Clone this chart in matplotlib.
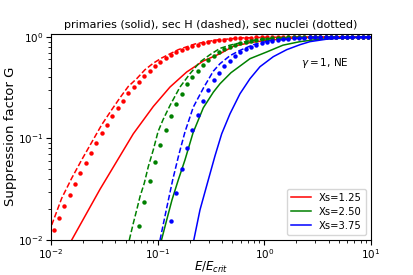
import numpy as np
import matplotlib
matplotlib.use('Agg')
import matplotlib.pyplot as plt

# legend labels and colours
labels = ['Xs=1.25', 'Xs=2.50', 'Xs=3.75']
colors = ['r', 'g', 'b']

# primaries (solid)
x_prim_r = [0.01563, 0.0288, 0.0591, 0.0910, 0.1305, 0.1871, 0.2679, 0.384, 0.512, 0.734, 1.052, 2.16, 5.12, 10.0]
g_prim_r = [0.0100, 0.0316, 0.1112, 0.2066, 0.3211, 0.4516, 0.5798, 0.684, 0.808, 0.879, 0.926, 0.984, 0.995, 1.0]
x_prim_g = [0.1086, 0.1215, 0.1362, 0.1561, 0.1804, 0.2144, 0.2679, 0.3323, 0.384, 0.4868, 0.734, 1.052, 1.496, 2.16, 3.33, 5.70, 10.0]
g_prim_g = [0.0100, 0.01575, 0.0248, 0.0391, 0.0616, 0.1134, 0.2006, 0.2853, 0.346, 0.4444, 0.611, 0.711, 0.830, 0.899, 0.951, 0.984, 0.998]
x_prim_b = [0.2182, 0.2493, 0.2983, 0.3447, 0.3984, 0.4765, 0.5912, 0.7336, 0.9107, 1.213, 1.620, 2.16, 2.679, 3.844, 5.70, 10.0]
g_prim_b = [0.0100, 0.0198, 0.0391, 0.0674, 0.1112, 0.175, 0.2758, 0.3878, 0.5093, 0.639, 0.749, 0.839, 0.899, 0.951, 0.980, 0.995]

# sec H (dashed)
x_secH_r = [0.01015, 0.0126, 0.01563, 0.0194, 0.02407, 0.02987, 0.03707, 0.04434, 0.05305, 0.06358,
            0.07606, 0.0910, 0.1091, 0.1561, 0.2239, 0.3447, 0.5911, 1.13, 2.68, 10.0]
g_secH_r = [0.01406, 0.0258, 0.0406, 0.0616, 0.0916, 0.1364, 0.1917, 0.2518, 0.3256, 0.3878,
            0.4757, 0.5513, 0.6206, 0.7494, 0.853, 0.930, 0.977, 0.993, 0.998, 1.0]
x_secH_g = [0.0542, 0.0591, 0.0636, 0.0683, 0.0749, 0.0817, 0.0910, 0.1007, 0.1122, 0.1305, 0.1619,
            0.2009, 0.2493, 0.3094, 0.384, 0.4765, 0.7336, 1.13, 2.16, 5.12, 10.0]
g_secH_g = [0.0100, 0.01462, 0.01977, 0.02675, 0.03627, 0.05286, 0.07727, 0.1163, 0.1528, 0.2114, 0.3211,
            0.4344, 0.5667, 0.6688, 0.7715, 0.830, 0.919, 0.966, 0.989, 0.998, 1.0]
x_secH_b = [0.1052, 0.1204, 0.1383, 0.1578, 0.1804, 0.2158, 0.2679, 0.3323, 0.384, 0.4765, 0.5912,
            0.7878, 1.13, 2.16, 5.12, 10.0]
g_secH_b = [0.0100, 0.01977, 0.03909, 0.0690, 0.1163, 0.2038, 0.3125, 0.4598, 0.5452, 0.654, 0.7376,
            0.839, 0.919, 0.973, 0.993, 1.0]

# sec nuclei (dotted), common E/Ecrit grid
x_nuc = [0.0106, 0.0119, 0.0133, 0.0150, 0.0168, 0.0188, 0.0211, 0.0237, 0.0266, 0.0299,
         0.0335, 0.0376, 0.0422, 0.0473, 0.0531, 0.0596, 0.0668, 0.0750, 0.0841, 0.0944,
         0.106, 0.119, 0.133, 0.150, 0.168, 0.188, 0.211, 0.237, 0.266, 0.299,
         0.335, 0.376, 0.422, 0.473, 0.531, 0.596, 0.668, 0.750, 0.841, 0.944,
         1.06, 1.19, 1.33, 1.50, 1.68, 1.88, 2.11, 2.37, 2.66, 2.99,
         3.35, 3.76, 4.22, 4.73, 5.31, 5.96, 6.68, 7.50, 8.41, 9.44]
g_nuc_r = [0.0126, 0.0166, 0.0215, 0.0276, 0.0355, 0.0455, 0.0579, 0.0727, 0.0906, 0.112,
           0.137, 0.166, 0.198, 0.235, 0.278, 0.321, 0.362, 0.409, 0.462, 0.513,
           0.561, 0.615, 0.658, 0.705, 0.749, 0.784, 0.811, 0.839, 0.865, 0.889,
           0.909, 0.928, 0.943, 0.956, 0.967, 0.975, 0.982, 0.986, 0.991, 0.993,
           0.995, 0.996, 0.997, 0.998, 0.998, 0.999, 0.999, 1.0, 1.0, 1.0,
           1.0, 1.0, 1.0, 1.0, 1.0, 1.0, 1.0, 1.0, 1.0, 1.0]
g_nuc_g = [0.0138, 0.0236, 0.0382, 0.0588, 0.0866, 0.120, 0.167, 0.218, 0.277, 0.341,
           0.404, 0.465, 0.533, 0.597, 0.651, 0.705, 0.755, 0.802, 0.839, 0.873,
           0.899, 0.919, 0.938, 0.953, 0.964, 0.973, 0.980, 0.986, 0.991, 0.994,
           0.996, 0.997, 0.998, 0.999, 1.0, 1.0, 1.0, 1.0, 1.0, 1.0,
           1.0, 1.0, 1.0, 1.0]
g_nuc_b = [0.0153, 0.0289, 0.0498, 0.0803, 0.120, 0.171, 0.234, 0.302, 0.373, 0.444,
           0.513, 0.584, 0.646, 0.705, 0.758, 0.802, 0.839, 0.873, 0.899, 0.919,
           0.936, 0.951, 0.962, 0.971, 0.980, 0.986, 0.991, 0.994, 0.996, 0.997,
           0.998, 0.999, 1.0, 1.0, 1.0, 1.0, 1.0, 1.0]

prim = [(x_prim_r, g_prim_r), (x_prim_g, g_prim_g), (x_prim_b, g_prim_b)]
secH = [(x_secH_r, g_secH_r), (x_secH_g, g_secH_g), (x_secH_b, g_secH_b)]
nuc = [g_nuc_r, g_nuc_g, g_nuc_b]

fig = plt.figure(figsize=(4.13, 2.75), dpi=100)
ax = fig.add_axes([0.1235, 0.1273, 0.7748, 0.7507])

for i in range(3):
    ax.plot(prim[i][0], prim[i][1], '-', color=colors[i], lw=1.1, label=labels[i])
    ax.plot(secH[i][0], secH[i][1], '--', color=colors[i], lw=1.1)
    g = nuc[i]
    ax.plot(x_nuc[len(x_nuc) - len(g):], g, 'o', color=colors[i], ms=3.2, mew=0)

ax.set_xscale('log')
ax.set_yscale('log')
ax.set_xlim(0.01, 10)
ax.set_ylim(0.01, 1.08)
ax.tick_params(labelsize=7.5, pad=2)
ax.set_xlabel(r'$E/E_{crit}$', fontsize=8.5, labelpad=-1)
ax.set_ylabel('Suppression factor G', fontsize=9.5, labelpad=1)
ax.set_title('primaries (solid), sec H (dashed), sec nuclei (dotted)', fontsize=8, pad=4)
ax.text(0.78, 0.855, r'$\gamma = 1$, NE', transform=ax.transAxes, fontsize=7.5, va='center')
ax.legend(loc='lower right', fontsize=7.2, labelspacing=0.4)

fig.savefig('out.png', dpi=100)
